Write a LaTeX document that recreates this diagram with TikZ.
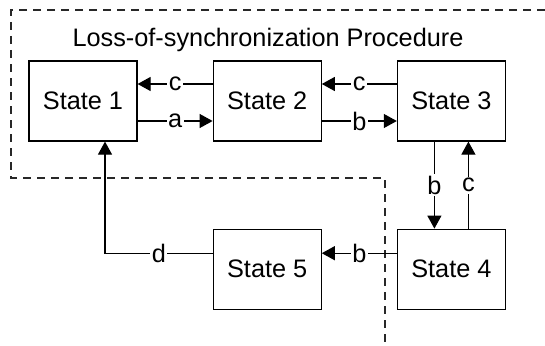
\documentclass[tikz,border=0pt]{standalone}
\usepackage{fontspec}
\setmainfont{Liberation Sans}
\usetikzlibrary{arrows.meta,positioning}
\definecolor{fencegray}{RGB}{40,40,40}

\begin{document}
\begin{tikzpicture}[
  state/.style={draw, line width=1.2pt, minimum width=108pt, minimum height=80pt, font=\fontsize{25.3}{30}\selectfont},
  lbl/.style={fill=white, inner sep=1.5pt, font=\fontsize{25.3}{30}\selectfont},
  arr/.style={line width=1.2pt, -{Triangle[length=13pt,width=14pt]}},
  fence/.style={draw=fencegray, line width=1.2pt, dash pattern=on 8pt off 6pt},
  node distance=75pt and 75pt]
\useasboundingbox (0,0) rectangle (545pt,-345pt);
\draw[fence] (545pt,-10pt) -- (11pt,-10pt) -- (11pt,-178pt) -- (385pt,-178pt) -- (385pt,-345pt);
\node[font=\fontsize{25.3}{30}\selectfont, anchor=base] (ttl) at (268pt,-47pt) {Loss-of-synchronization Procedure};
\node[state] (s1) at (83pt,-101pt) {State 1};
\node[state, right=of s1] (s2) {State 2};
\node[state, right=of s2] (s3) {State 3};
\node[state, below=87pt of s3] (s4) {State 4};
\node[state, left=of s4] (s5) {State 5};
\draw[arr] ([yshift=17pt]s2.west) -- node[lbl]{c} ([yshift=17pt]s1.east);
\draw[arr] ([yshift=-20pt]s1.east) -- node[lbl]{a} ([yshift=-20pt]s2.west);
\draw[arr] ([yshift=17pt]s3.west) -- node[lbl]{c} ([yshift=17pt]s2.east);
\draw[arr] ([yshift=-20pt]s2.east) -- node[lbl]{b} ([yshift=-20pt]s3.west);
\draw[arr] ([xshift=-17pt]s3.south) -- node[lbl]{b} ([xshift=-17pt]s4.north);
\draw[arr] ([xshift=17pt]s4.north) -- node[lbl]{c} ([xshift=17pt]s3.south);
\draw[arr] ([yshift=16pt]s4.west) -- node[lbl]{b} ([yshift=16pt]s5.east);
\draw[arr] ([yshift=16pt]s5.west) -| node[lbl, pos=0.25]{d} ([xshift=22pt]s1.south);
\end{tikzpicture}
\end{document}
